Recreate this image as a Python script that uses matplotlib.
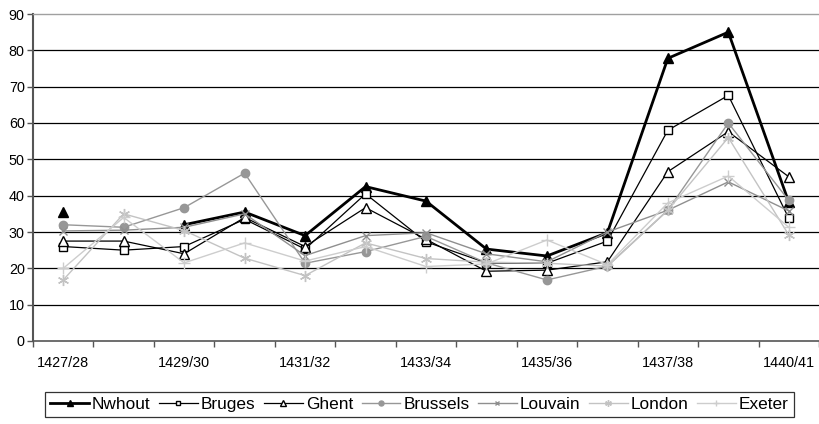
import numpy as np
import matplotlib
matplotlib.use("Agg")
import matplotlib.pyplot as plt

plt.rcParams['font.family'] = ['Liberation Sans', 'DejaVu Sans']

years = ["1427/28", "1428/29", "1429/30", "1430/31", "1431/32", "1432/33", "1433/34",
         "1434/35", "1435/36", "1436/37", "1437/38", "1438/39", "1440/41"]
shown_labels = ["1427/28", "", "1429/30", "", "1431/32", "", "1433/34",
                "", "1435/36", "", "1437/38", "", "1440/41"]

nwhout   = [35.5, np.nan, 32, 35.5, 29, 42.5, 38.5, 25.3, 23.4, 29.8, 77.8, 85, 38.2]
bruges   = [26, 25, 26, 33.5, 25.3, 40.5, 27.3, 21.5, 21.4, 27.5, 58, 67.6, 33.8]
ghent    = [27.5, 27.5, 24, 34, 26, 36.7, 28, 19.2, 19.5, 21.8, 46.6, 57.6, 45.2]
brussels = [32, 31.3, 36.7, 46.2, 21.4, 24.6, 28.8, 21.5, 16.8, 20.6, 36, 60, 38.7]
louvain  = [30.3, 30.5, 31.3, 35, 23.5, 29, 29.8, 24, 21.8, 30, 36, 43.8, 35.8]
london   = [16.8, 35, 30.4, 22.8, 18, 27, 22.7, 21.7, 21.4, 20.6, 36, 56, 29.2]
exeter   = [20, 34, 21.5, 27, 22, 26, 20.5, 21.2, 27.8, 21, 38, 45.4, 31.3]

names = ["Nwhout", "Bruges", "Ghent", "Brussels", "Louvain", "London", "Exeter"]
series = [nwhout, bruges, ghent, brussels, louvain, london, exeter]

asterisk = (6, 2, 0)
styles = [
    dict(color='black', lw=2.0, marker='^', ms=6.5, mfc='black', mec='black'),
    dict(color='black', lw=0.9, marker='s', ms=6, mfc='white', mec='black', mew=1.0),
    dict(color='black', lw=0.9, marker='^', ms=7, mfc='white', mec='black', mew=1.0),
    dict(color='#979797', lw=1.0, marker='o', ms=6, mfc='#979797', mec='#979797'),
    dict(color='#8f8f8f', lw=1.0, marker='x', ms=6, mec='#8f8f8f', mew=1.0),
    dict(color='#c3c3c3', lw=1.0, marker=asterisk, ms=8, mec='#c3c3c3', mew=1.0),
    dict(color='#cdcdcd', lw=1.0, marker='+', ms=8, mec='#cdcdcd', mew=1.0),
]

fig = plt.figure(figsize=(8.2, 4.24), dpi=100)
ax = fig.add_axes([33/820, 1-341/424, (819-33)/820, (341-14)/424])

x = np.arange(len(years))
for name, vals, st in zip(names, series, styles):
    ax.plot(x, vals, label=name, clip_on=False, **st)

ax.set_xlim(-0.5, len(years) - 0.5)
ax.set_ylim(0, 90)
ax.set_yticks(np.arange(0, 91, 10))
for yv in range(10, 90, 10):
    ax.axhline(yv, color='black', lw=0.9, zorder=0)

ax.set_xticks(x)
ax.set_xticklabels(shown_labels, fontsize=10.4)
ax.set_xticks(np.arange(-0.5, len(years), 1), minor=True)
ax.tick_params(axis='x', which='major', length=0, pad=10.5)
ax.tick_params(axis='x', which='minor', length=4, color='#555555', width=1)
ax.tick_params(axis='y', length=4, color='#555555', width=1, labelsize=10.4, pad=2)

ax.spines['right'].set_visible(False)
ax.spines['top'].set_color('#a0a0a0')
ax.spines['top'].set_linewidth(1.0)
ax.spines['left'].set_color('#555555')
ax.spines['left'].set_linewidth(1.5)
ax.spines['bottom'].set_color('#555555')
ax.spines['bottom'].set_linewidth(1.2)

leg = fig.legend(loc='upper left', bbox_to_anchor=(45/820, 1-392/424), ncol=7,
                 fontsize=12.4, frameon=True, fancybox=False, edgecolor='black',
                 handlelength=2.25, handletextpad=0.17, columnspacing=0.5,
                 borderpad=0.3, borderaxespad=0.0, markerscale=0.6)
leg.get_frame().set_linewidth(0.9)

fig.savefig("out.png", dpi=100)
